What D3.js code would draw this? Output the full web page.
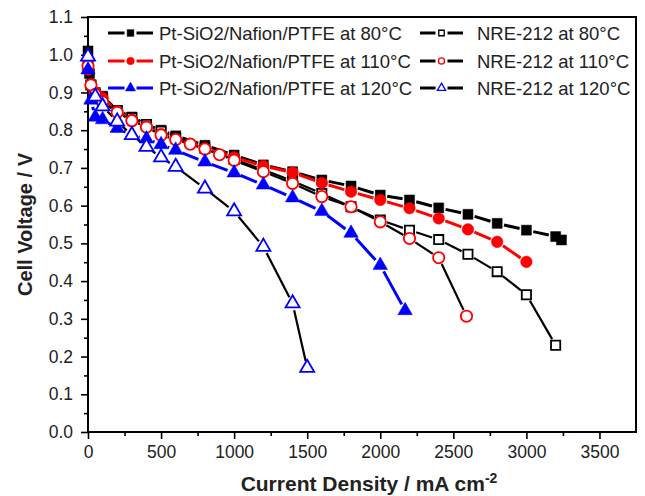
<!DOCTYPE html>
<html>
<head>
<meta charset="utf-8">
<script src="https://cdn.jsdelivr.net/npm/d3@7"></script>
<style>
  body { margin: 0; background: #fff; }
  svg { font-family: "Liberation Sans", Arial, sans-serif; }
</style>
</head>
<body>
<div id="chart"></div>
<script>
// current density (mA cm-2) and cell voltage (V)
const pt80X  = [0, 10, 20, 50, 100, 200, 300, 400, 500, 600, 800, 1000, 1200, 1400, 1600, 1800, 2000, 2200, 2400, 2600, 2800, 3000, 3200, 3240];
const pt80Y  = [1.01, 0.95, 0.92, 0.90, 0.89, 0.852, 0.835, 0.815, 0.80, 0.785, 0.76, 0.734, 0.708, 0.69, 0.668, 0.652, 0.628, 0.615, 0.594, 0.577, 0.553, 0.535, 0.518, 0.509];
const pt110X = [0, 20, 50, 100, 200, 300, 400, 500, 600, 800, 1000, 1200, 1400, 1600, 1800, 2000, 2200, 2400, 2600, 2800, 3000];
const pt110Y = [0.96, 0.92, 0.90, 0.885, 0.85, 0.828, 0.81, 0.79, 0.775, 0.752, 0.728, 0.705, 0.688, 0.66, 0.637, 0.615, 0.593, 0.566, 0.537, 0.504, 0.451];
const pt120X = [0, 20, 50, 100, 200, 300, 400, 500, 600, 800, 1000, 1200, 1400, 1600, 1800, 2000, 2170];
const pt120Y = [0.96, 0.88, 0.835, 0.828, 0.805, 0.787, 0.777, 0.762, 0.747, 0.716, 0.687, 0.655, 0.621, 0.585, 0.527, 0.442, 0.322];
const nre80X  = [0, 20, 50, 100, 200, 300, 400, 500, 600, 800, 1000, 1200, 1400, 1600, 1800, 2000, 2200, 2400, 2600, 2800, 3000, 3200];
const nre80Y  = [0.97, 0.92, 0.895, 0.885, 0.852, 0.833, 0.815, 0.797, 0.78, 0.752, 0.722, 0.695, 0.665, 0.632, 0.597, 0.562, 0.535, 0.51, 0.471, 0.425, 0.364, 0.23];
const nre110X = [0, 20, 50, 100, 200, 300, 400, 500, 600, 700, 800, 900, 1000, 1200, 1400, 1600, 1800, 2000, 2200, 2400, 2590];
const nre110Y = [0.97, 0.92, 0.895, 0.875, 0.847, 0.825, 0.808, 0.787, 0.775, 0.763, 0.75, 0.735, 0.72, 0.69, 0.659, 0.624, 0.597, 0.557, 0.513, 0.462, 0.307];
const nre120X = [0, 50, 100, 200, 300, 400, 500, 600, 800, 1000, 1200, 1400, 1500];
const nre120Y = [0.995, 0.889, 0.863, 0.823, 0.787, 0.756, 0.728, 0.703, 0.645, 0.585, 0.491, 0.341, 0.17];

const labels = ['Pt-SiO2/Nafion/PTFE at 80°C', 'Pt-SiO2/Nafion/PTFE at 110°C', 'Pt-SiO2/Nafion/PTFE at 120°C',
                'NRE-212 at 80°C', 'NRE-212 at 110°C', 'NRE-212 at 120°C'];
const xTicks = [0, 500, 1000, 1500, 2000, 2500, 3000, 3500];
const yTicks = [0, 0.1, 0.2, 0.3, 0.4, 0.5, 0.6, 0.7, 0.8, 0.9, 1.0, 1.1];

const zip = (xs, ys) => xs.map((x, i) => ({x: x, y: ys[i]}));

const series = [
  {name: labels[0], data: zip(pt80X, pt80Y),   line: '#000', color: '#000', sym: d3.symbolSquare,   size: 100, open: false, lw: 3},
  {name: labels[3], data: zip(nre80X, nre80Y), line: '#000', color: '#000', sym: d3.symbolSquare,   size: 85, open: true,  lw: 2.2},
  {name: labels[1], data: zip(pt110X, pt110Y), line: '#f00', color: '#f00', sym: d3.symbolCircle,   size: 105, open: false, lw: 3},
  {name: labels[4], data: zip(nre110X, nre110Y), line: '#000', color: '#f00', sym: d3.symbolCircle, size: 100, open: true,  lw: 2.2},
  {name: labels[2], data: zip(pt120X, pt120Y), line: '#00f', color: '#00f', sym: d3.symbolTriangle, size: 90, open: false, lw: 3},
  {name: labels[5], data: zip(nre120X, nre120Y), line: '#000', color: '#00f', sym: d3.symbolTriangle, size: 85, open: true, lw: 2.2}
];

const width = 645, height = 496;
const mLeft = 88, mRight = 636, mTop = 17, mBottom = 432;

const svg = d3.select('#chart')
              .append('svg')
              .attr('width', width)
              .attr('height', height);

let scaleX = d3.scaleLinear().domain([0, 3750]).range([mLeft, mRight]);
let scaleY = d3.scaleLinear().domain([0, 1.1]).range([mBottom, mTop]);

// minor ticks first, then major ticks with labels
svg.append('g')
   .attr('transform', 'translate(0,' + mBottom + ')')
   .call(d3.axisBottom(scaleX).tickValues(d3.range(250, 3750, 500)).tickSize(4).tickFormat(''))
   .call(g => g.select('.domain').remove());
svg.append('g')
   .attr('transform', 'translate(' + mLeft + ',0)')
   .call(d3.axisLeft(scaleY).tickValues(d3.range(0.05, 1.1, 0.1)).tickSize(4).tickFormat(''))
   .call(g => g.select('.domain').remove());

let xAxisGroup = svg.append('g')
   .attr('transform', 'translate(0,' + mBottom + ')')
   .call(d3.axisBottom(scaleX).tickValues(xTicks).tickSize(7).tickPadding(7).tickFormat(d3.format('d')));
let yAxisGroup = svg.append('g')
   .attr('transform', 'translate(' + mLeft + ',0)')
   .call(d3.axisLeft(scaleY).tickValues(yTicks).tickSize(7).tickPadding(8).tickFormat(d3.format('.1f')));

[xAxisGroup, yAxisGroup].forEach(g => {
  g.select('.domain').remove();
  g.selectAll('text').style('font-size', '17.5px').style('fill', '#222').style('font-family', '"Liberation Sans", Arial, sans-serif');
});
svg.selectAll('.tick line').attr('stroke', '#000').attr('stroke-width', 1.6);

svg.append('rect')
   .attr('x', mLeft).attr('y', mTop)
   .attr('width', mRight - mLeft).attr('height', mBottom - mTop)
   .attr('fill', 'none').attr('stroke', '#000').attr('stroke-width', 2);

// connecting lines, broken a little around each marker
const gap = 7;
function segments(pts) {
  let out = [];
  for (let i = 1; i < pts.length; i++) {
    let x1 = scaleX(pts[i-1].x), y1 = scaleY(pts[i-1].y);
    let x2 = scaleX(pts[i].x),   y2 = scaleY(pts[i].y);
    let len = Math.hypot(x2 - x1, y2 - y1);
    if (len <= 2 * gap + 1) continue;
    let ux = (x2 - x1) / len, uy = (y2 - y1) / len;
    out.push({x1: x1 + ux * gap, y1: y1 + uy * gap, x2: x2 - ux * gap, y2: y2 - uy * gap});
  }
  return out;
}

series.forEach(s => {
  svg.append('g').selectAll('line')
     .data(segments(s.data))
     .enter().append('line')
     .attr('x1', d => d.x1).attr('y1', d => d.y1)
     .attr('x2', d => d.x2).attr('y2', d => d.y2)
     .attr('stroke', s.line)
     .attr('stroke-width', s.lw);
});

series.forEach(s => {
  svg.append('g').selectAll('path')
     .data(s.data)
     .enter().append('path')
     .attr('transform', d => 'translate(' + scaleX(d.x) + ',' + scaleY(d.y) + ')')
     .attr('d', d3.symbol().type(s.sym).size(s.size))
     .attr('fill', s.open ? '#fff' : s.color)
     .attr('stroke', s.color)
     .attr('stroke-width', s.open ? 1.8 : 0.5);
});

// legend, two columns of three
const legendRows = [33, 61, 88];
const legendCols = [{x0: 108, x1: 153, tx: 159}, {x0: 420, x1: 463, tx: 477}];
const legendOrder = [0, 2, 4, 1, 3, 5];
legendOrder.forEach((si, k) => {
  let s = series[si];
  let col = legendCols[Math.floor(k / 3)];
  let y = legendRows[k % 3];
  let mid = (col.x0 + col.x1) / 2;
  let g = svg.append('g');
  g.append('line').attr('x1', col.x0).attr('x2', mid - 6).attr('y1', y).attr('y2', y)
   .attr('stroke', s.line).attr('stroke-width', 3);
  g.append('line').attr('x1', mid + 6).attr('x2', col.x1).attr('y1', y).attr('y2', y)
   .attr('stroke', s.line).attr('stroke-width', 3);
  g.append('path')
   .attr('transform', 'translate(' + mid + ',' + y + ')')
   .attr('d', d3.symbol().type(s.sym).size(s.open ? 30 : 45))
   .attr('fill', s.open ? '#fff' : s.color)
   .attr('stroke', s.color)
   .attr('stroke-width', s.open ? 1.3 : 0.5);
  g.append('text')
   .attr('x', col.tx).attr('y', y)
   .attr('dy', '0.36em')
   .style('font-size', '18.5px')
   .style('fill', '#222')
   .text(s.name);
});

// axis titles
svg.append('text')
   .attr('transform', 'translate(32,' + (mTop + mBottom) / 2 + ') rotate(-90)')
   .style('text-anchor', 'middle')
   .style('font-size', '20px')
   .style('font-weight', 'bold')
   .style('fill', '#222')
   .text('Cell Voltage / V');

let xt = svg.append('text')
   .attr('x', 369)
   .attr('y', 491)
   .style('text-anchor', 'middle')
   .style('font-size', '21px')
   .style('font-weight', 'bold')
   .style('fill', '#222');
xt.append('tspan').text('Current Density / mA cm');
xt.append('tspan').attr('dy', -8).style('font-size', '14px').text('-2');
</script>
</body>
</html>
